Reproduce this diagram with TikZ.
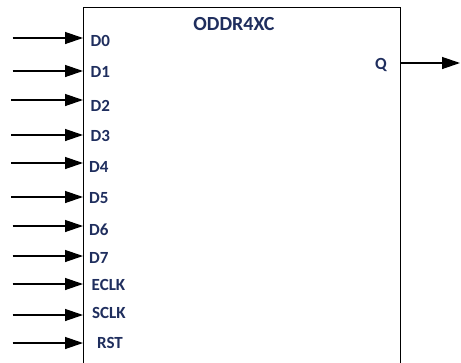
\documentclass[tikz,border=0pt]{standalone}
\usepackage{fontspec}
\setmainfont{Carlito}
\usetikzlibrary{arrows.meta}
\definecolor{lbl}{HTML}{1F2E5E}
\begin{document}
\begin{tikzpicture}[x=1pt,y=-1pt,
  pinlbl/.style={anchor=base west,inner sep=0pt,text=lbl,font=\fontsize{17}{19}\selectfont\bfseries},
  sig/.style={line width=1.3pt,-{Triangle[length=18pt,width=12pt]}},
  blk/.style={draw,line width=1.4pt,anchor=north west,minimum width=317pt,minimum height=400pt,inner sep=0pt}]
\useasboundingbox (0,0) rectangle (461,362);
\clip (0,0) rectangle (461,362);
\fill[white] (0,0) rectangle (461,362);
\node[blk] (box) at (83,7) {};
\node[anchor=base,inner sep=0pt,text=lbl,font=\fontsize{20}{22}\selectfont\bfseries] (title) at (234,30) {ODDR4XC};
\foreach \n/\txt/\ay/\lx/\by/\sx in {
  0/D0/38/90.5/46/12.5,
  1/D1/71/90.5/77/12.5,
  2/D2/100/90.5/111/11,
  3/D3/135/90.5/141/11,
  4/D4/163/89/172/11,
  5/D5/197/89/203/11,
  6/D6/226/89/235/12.5,
  7/D7/256/89/263/12.5,
  8/ECLK/284/91.5/290/12.5,
  9/SCLK/315/92/318/12.5,
  10/RST/343/97/348/12.5}{
  \coordinate (in\n) at (\sx,\ay);
  \node[pinlbl] (l\n) at (\lx,\by) {\txt};
  \draw[sig] (in\n) -- (in\n -| box.west);
}
\node[pinlbl] (q) at (375,69) {Q};
\coordinate (qout) at (460,63);
\draw[sig] (qout -| box.east) -- (qout);
\end{tikzpicture}
\end{document}
